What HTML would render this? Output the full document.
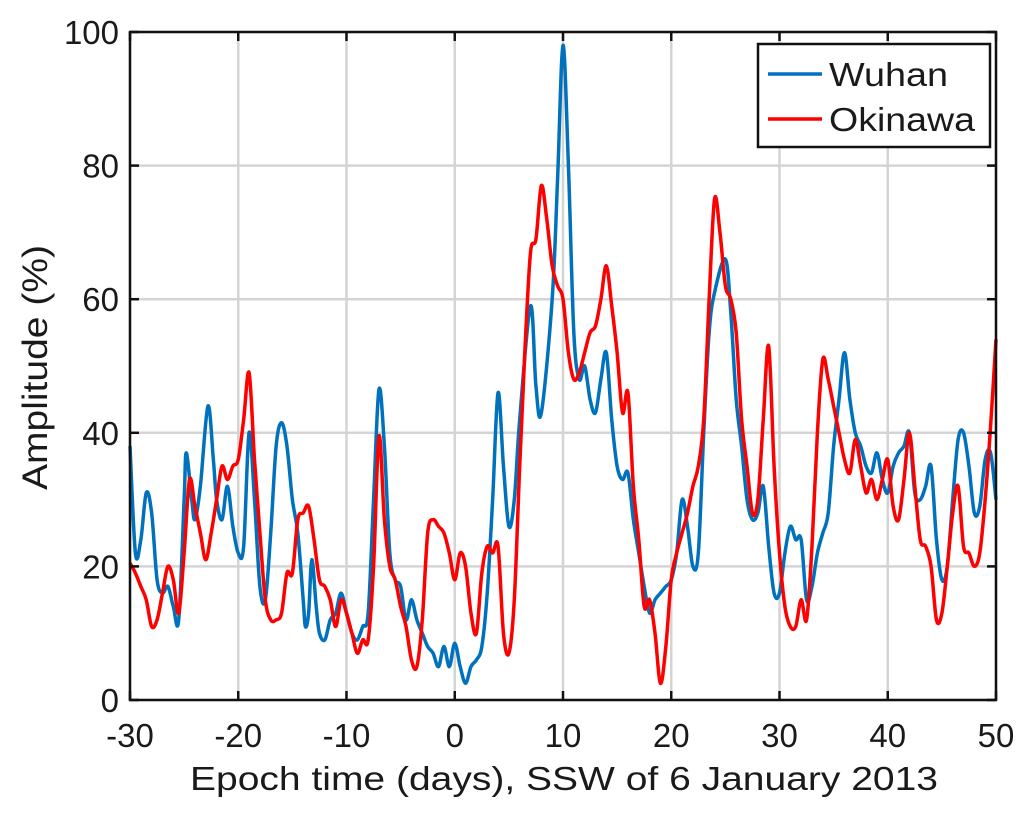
<!DOCTYPE html>
<html><head><meta charset="utf-8"><style>
body{margin:0;background:#fff;}
svg text{font-family:"Liberation Sans",Arial,sans-serif;fill:#1a1a1a;}
</style></head><body>
<svg id="chart" width="1033" height="821">
<g id="grid"></g>
<g id="series"></g>
<g id="axes"></g>
<g id="legend">
<rect x="758" y="44" width="232" height="103" fill="#fff" stroke="#111" stroke-width="2.5"/>
<line x1="768" y1="74" x2="822" y2="74" stroke="#0072BD" stroke-width="3.5"/>
<text x="829" y="86" font-size="33" textLength="119" lengthAdjust="spacingAndGlyphs">Wuhan</text>
<line x1="768" y1="119" x2="822" y2="119" stroke="#FF0000" stroke-width="3.5"/>
<text x="829" y="131" font-size="33" textLength="146" lengthAdjust="spacingAndGlyphs">Okinawa</text>
</g>
<text x="190" y="790" font-size="33" textLength="748" lengthAdjust="spacingAndGlyphs">Epoch time (days), SSW of 6 January 2013</text>
<text transform="translate(47,490) rotate(-90)" font-size="35" textLength="245" lengthAdjust="spacingAndGlyphs">Amplitude (%)</text>
</svg>
<script>
const xTicks=[-30,-20,-10,0,10,20,30,40,50];
const yTicks=[0,20,40,60,80,100];
const wuhanX=[-30,-29.5,-29,-28.5,-28,-27.5,-27,-26.5,-26,-25.5,-25,-24.8,-24.3,-24,-23.5,-22.8,-22.3,-22,-21.5,-21,-20.5,-20,-19.5,-19,-18.5,-18,-17.5,-17,-16.5,-16,-15.5,-15,-14.5,-14,-13.8,-13.5,-13.2,-12.8,-12.5,-12,-11.5,-11,-10.5,-10,-9.5,-9,-8.5,-8,-7.5,-7,-6.5,-6,-5.5,-5,-4.5,-4,-3.5,-3,-2.5,-2,-1.5,-1,-0.5,0,0.5,1,1.5,2,2.5,3,3.5,4,4.5,5,5.5,6,7,7.5,8,9,9.5,10,10.5,11,11.5,12,12.5,13,13.5,14,14.5,15,15.5,16,16.5,17,17.5,18,18.5,19,19.5,20,20.5,21,21.5,22,22.5,23,23.5,24,25,25.5,26,26.5,27,27.5,28,28.5,29,29.5,30,30.5,31,31.5,32,32.5,33,33.5,34,34.5,35,35.5,36,36.5,37,37.5,38,38.5,39,39.5,40,40.5,41,41.5,42,42.5,43,43.5,44,44.5,45,45.5,46,46.5,47,47.5,48,48.5,49,49.5,50];
const wuhanY=[38,22,24,31,28,18,16,17,14,12,30,37,30,27,32,44,36,30,27,32,26,22,23,40,30,17,15,25,38,41.5,38,30,25,15,11,13,21,14,10,9,12,13,16,13,10,9,11,13,30,46.5,38,22,18,17,12,15,12,10,8,7,5,8,5,8.5,5,2.5,5,6,8,16,30,46,35,26,30,42,59,47,43,60,78,98,80,55,48,50,45,43,48,52,42,35,33,34,27,22,17,13,15,16,17,18,22,30,26,20,22,40,55,61,66,58,45,38,30,27,28,32,23,16,16,22,26,24,24,15,17,22,25,28,38,45,52,45,40,38,35,34,37,33,31,35,37,38,40,31,30,32,35,24,18,20,30,39,40,35,28,29,36,37,30];
const okiX=[-30,-29.5,-29,-28.5,-28,-27.5,-27,-26.5,-26,-25.5,-25,-24.5,-24,-23.5,-23,-22.5,-22,-21.5,-21,-20.5,-20,-19.5,-19,-18.5,-18,-17.5,-17,-16.5,-16,-15.5,-15,-14.5,-14,-13.5,-13,-12.5,-12,-11.5,-11,-10.5,-10,-9.5,-9,-8.5,-8,-7.5,-7,-6.5,-6,-5.5,-5,-4.5,-4,-3.5,-3,-2.5,-2,-1.5,-1,-0.5,0,0.5,1,1.5,2,2.5,3,3.5,4,4.5,5,5.5,6,6.5,7,7.5,8,8.5,9,9.5,10,10.5,11,11.5,12,12.5,13,13.5,14,14.5,15,15.5,16,16.5,17,17.5,18,18.5,19,19.5,20,20.5,21,21.5,22,22.5,23,23.5,24,24.5,25,25.5,26,26.5,27,27.5,28,28.5,29,29.5,30,30.5,31,31.5,32,32.5,33,33.5,34,34.5,35,35.5,36,36.5,37,37.5,38,38.5,39,39.5,40,40.5,41,41.5,42,42.5,43,43.5,44,44.5,45,45.5,46,46.5,47,47.5,48,48.5,49,49.5,50];
const okiY=[20.5,19,17,15,11,12,16,20,18,13,22,33,29,25,21,25,30,35,33,35,36,42,49,36,25,15,12,12,13,19,19,27,28,29,24,18,17,15,11,15,13,10,7,9,9,20,39.5,27,20,18,14,11,6,5,12,25,27,26,25,22,18,22,20,13,10,19,23,22,23,10,7,15,35,53,67,69,77,72,65,62,60,52,48,49,52,55,56,60,65,59,52,43,46,32,24,14,15,10,2.5,8,18,22,25,28,32,35,42,60,75,70,62,60,55,42,35,28,30,42,53,35,22,14,11,11,15,12,23,40,51,48,44,40,36,34,39,35,31,33,30,33,36,29,27,33,40,32,24,23,20,12,13,20,28,32,23,22,20,22,30,41,54];
const L=130,R=996,T=32,B=700;
const xs=v=>L+(v+30)/80*(R-L);
const ys=v=>B-v/100*(B-T);
const NS="http://www.w3.org/2000/svg";
const grid=document.getElementById('grid'),axes=document.getElementById('axes'),ser=document.getElementById('series');
function mk(tag,attrs,parent){const e=document.createElementNS(NS,tag);for(const k in attrs)e.setAttribute(k,attrs[k]);parent.appendChild(e);return e;}
xTicks.forEach(t=>{
 const g=mk('line',{x1:xs(t),x2:xs(t),y1:T,y2:B,stroke:'#d4d4d4','stroke-width':2.5},grid);
 
 
 mk('line',{x1:xs(t),x2:xs(t),y1:B,y2:B-9,stroke:'#111','stroke-width':2.5},axes);
 mk('line',{x1:xs(t),x2:xs(t),y1:T,y2:T+9,stroke:'#111','stroke-width':2.5},axes);
 const tx=mk('text',{x:xs(t),y:B+47,'font-size':33,'text-anchor':'middle'},axes);tx.textContent=t;
 
 
});
yTicks.forEach(t=>{
 const g=mk('line',{x1:L,x2:R,y1:ys(t),y2:ys(t),stroke:'#d4d4d4','stroke-width':2.5},grid);
 
 
 mk('line',{x1:L,x2:L+9,y1:ys(t),y2:ys(t),stroke:'#111','stroke-width':2.5},axes);
 mk('line',{x1:R,x2:R-9,y1:ys(t),y2:ys(t),stroke:'#111','stroke-width':2.5},axes);
 const tx=mk('text',{x:L-11,y:ys(t)+12,'font-size':33,'text-anchor':'end'},axes);tx.textContent=t;
 
 
});
const box=mk('rect',{x:L,y:T,width:R-L,height:B-T,fill:'none',stroke:'#111','stroke-width':2.5},axes);


function path(X,Y){
 const p=X.map((x,i)=>[xs(x),ys(Y[i])]);
 let d=`M${p[0][0]},${p[0][1]}`;
 for(let i=0;i<p.length-1;i++){
  const p0=p[Math.max(0,i-1)],p1=p[i],p2=p[i+1],p3=p[Math.min(p.length-1,i+2)];
  const c1=[p1[0]+(p2[0]-p0[0])/6,p1[1]+(p2[1]-p0[1])/6],c2=[p2[0]-(p3[0]-p1[0])/6,p2[1]-(p3[1]-p1[1])/6];
  d+=`C${c1[0]},${c1[1]} ${c2[0]},${c2[1]} ${p2[0]},${p2[1]}`;
 }
 return d;
}
const w=mk('path',{d:path(wuhanX,wuhanY),fill:'none',stroke:'#0072BD','stroke-width':3.5,'stroke-linejoin':'round'},ser);


const o=mk('path',{d:path(okiX,okiY),fill:'none',stroke:'#FF0000','stroke-width':3.5,'stroke-linejoin':'round'},ser);


</script>
</body></html>
